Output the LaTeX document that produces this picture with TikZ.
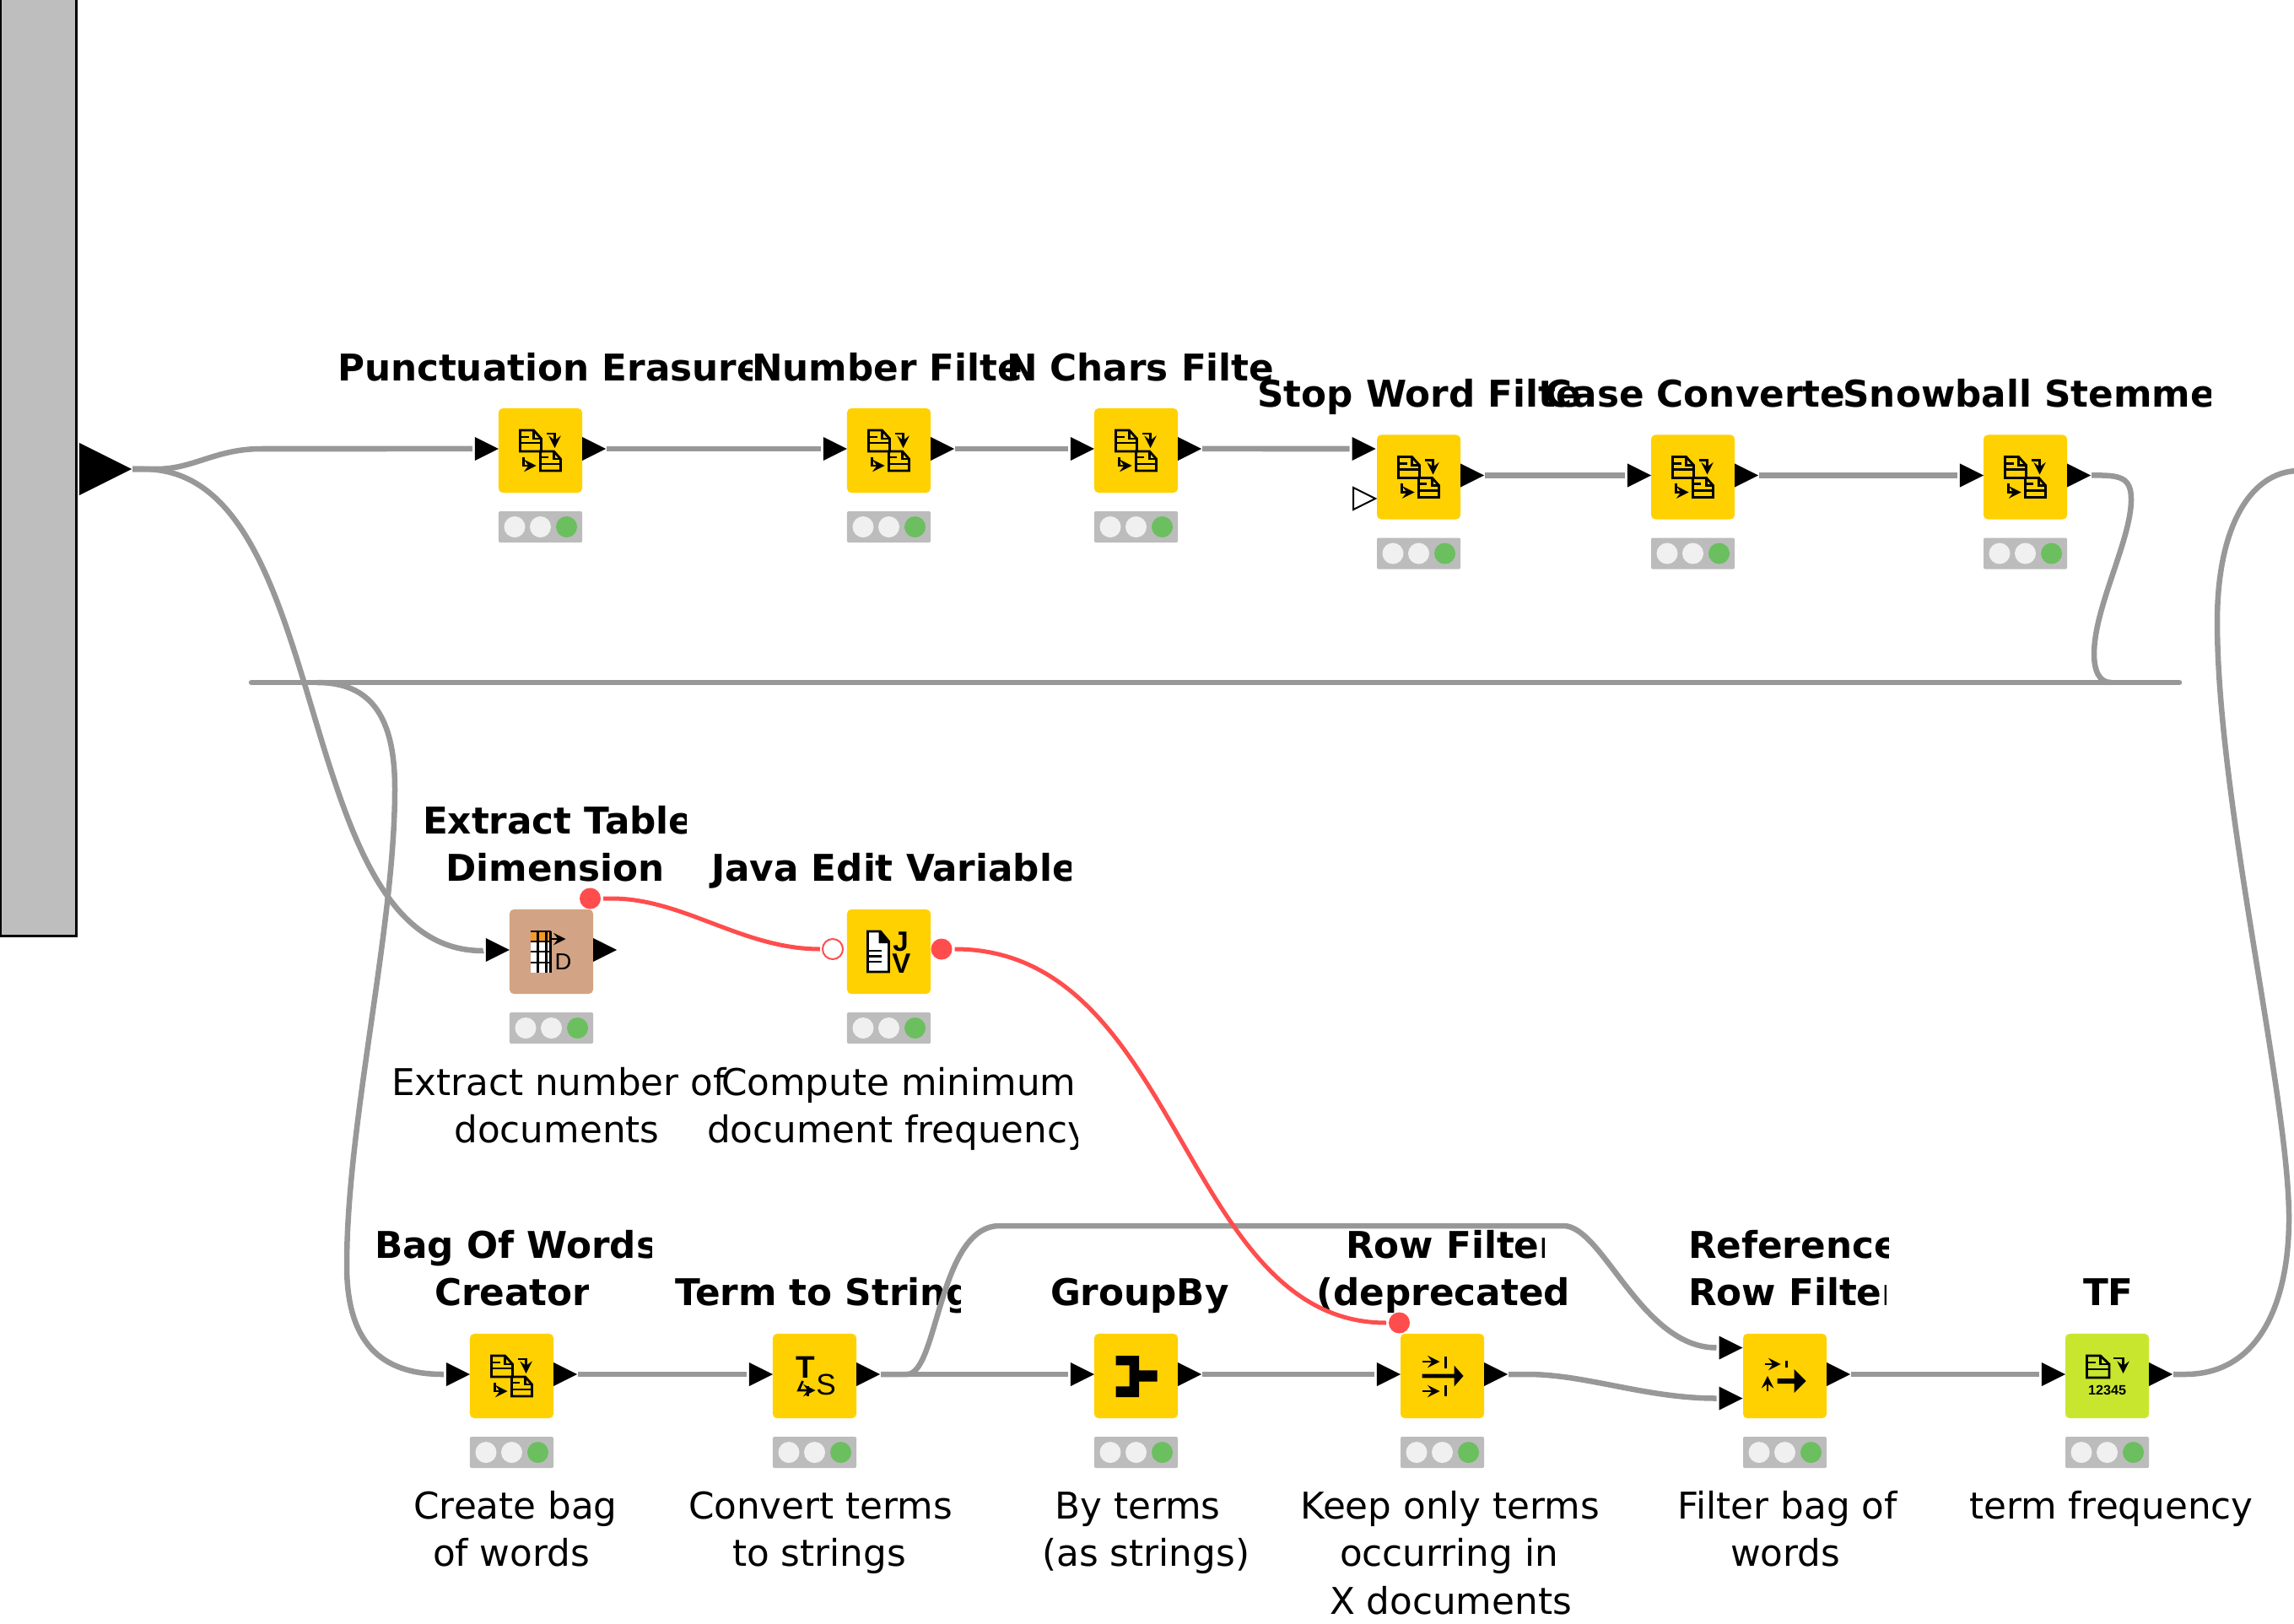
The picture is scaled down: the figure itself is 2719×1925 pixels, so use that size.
\documentclass[tikz,border=0pt]{standalone}
\usepackage{fontspec}
\setmainfont{DejaVu Sans}
\newfontfamily\iconfont{Liberation Sans}
\usepackage{tikz}
\usetikzlibrary{positioning}
\usetikzlibrary{shapes.geometric}
\definecolor{kyellow}{HTML}{FFD100}
\definecolor{kbrown}{HTML}{D2A384}
\definecolor{kgreen}{HTML}{C9E62F}
\definecolor{kstatus}{HTML}{BCBCBC}
\definecolor{klampoff}{HTML}{F0F0F0}
\definecolor{klampon}{HTML}{6BBF5F}
\definecolor{kwire}{HTML}{989898}
\definecolor{kvar}{HTML}{FF4D4D}
\definecolor{kbar}{HTML}{BEBEBE}
\definecolor{korange}{HTML}{F59A2A}
\tikzset{
  kbox/.style={rectangle,rounded corners=0.05cm,minimum width=0.99cm,minimum height=1cm,inner sep=0,outer sep=0},
  kstat/.style={rectangle,rounded corners=0.02cm,fill=kstatus,minimum width=0.99cm,minimum height=0.37cm,inner sep=0,outer sep=0},
  klamp/.style={circle,minimum size=0.25cm,inner sep=0,outer sep=0},
  kport/.style={isosceles triangle,isosceles triangle stretches,shape border rotate=0,fill=black,minimum width=0.28cm,minimum height=0.28cm,inner sep=0,outer sep=0},
  kvarport/.style={circle,fill=kvar,minimum size=0.25cm,inner sep=0,outer sep=0},
  wire/.style={draw=kwire,line width=0.065cm,shorten >=0.03cm,shorten <=0.01cm},
  varwire/.style={draw=kvar,line width=0.05cm,shorten >=0.03cm,shorten <=0.03cm},
  ktitle/.style={font=\bfseries\fontsize{12.42pt}{16pt}\selectfont,inner sep=0,outer sep=0,anchor=base west},
  ktext/.style={font=\fontsize{12.42pt}{16pt}\selectfont,inner sep=0,outer sep=0,anchor=base west},
  kicon/.style={line width=0.028cm,draw=black},
  ktiny/.style={inner sep=0,outer sep=0,anchor=base,text=black},
}
% box with its traffic light
\newcommand{\knode}[4]{
  \node[kbox,fill=#4] (#1) at (#2,#3) {};
  \node[kstat,below=0.22cm of #1] (#1-st) {};
  \node[klamp,fill=klampoff,xshift=-0.305cm] (#1-la) at (#1-st) {};
  \node[klamp,fill=klampoff] (#1-lb) at (#1-st) {};
  \node[klamp,fill=klampon,xshift=0.31cm] (#1-lc) at (#1-st) {};
}
\newcommand{\kin}[1]{\node[kport,anchor=east] (#1-in) at ([yshift=0.02cm]#1.west) {};}
\newcommand{\kout}[1]{\node[kport,anchor=west] (#1-out) at ([yshift=0.02cm]#1.east) {};}
% name, style, x, baseline, right edge of clip, text
\newcommand{\klabel}[6]{
  \begin{scope}
    \clip (#3-20,#4-50) rectangle (#5,#4+18);
    \node[#2] (#1) at (#3-2,#4+1.5) {#6};
  \end{scope}
}
\newcommand{\icondocs}[1]{
  \begin{scope}[shift={(#1.center)},kicon]
    \draw (-24,-24) -- (-8,-24) -- (1,-14) -- (1,1) -- (-24,1) -- cycle;
    \draw (-8,-24) -- (-8,-14) -- (1,-14);
    \draw (-24,-9) -- (1,-9);
    \draw (-24,-16) -- (-14,-16);
    \draw (0,1) -- (16,1) -- (24,10) -- (24,24) -- (0,24) -- cycle;
    \draw (16,1) -- (16,10) -- (24,10);
    \draw (0,8) -- (9,8);
    \draw (0,16) -- (24,16);
    \draw[->,>=stealth] (7,-20) -- (17,-20) -- (17,-3);
    \draw[->,>=stealth] (-20,8) -- (-20,18) -- (-5,18);
  \end{scope}
}

\begin{document}
\begin{tikzpicture}[x=0.01cm,y=-0.01cm]
\useasboundingbox (0,0) rectangle (2719,1925);

\node[draw=black,fill=kbar,line width=0.03cm,minimum width=0.9cm,minimum height=11.2cm,inner sep=0,outer sep=0,anchor=south west] (table) at (0.5,1109.5) {};
\node[kport,minimum width=0.62cm,minimum height=0.62cm,anchor=west] (table-out) at (94,556) {};

\knode{pct}{640.5}{534}{kyellow}
\knode{num}{1053.5}{534}{kyellow}
\knode{nch}{1346.5}{534}{kyellow}
\knode{stp}{1681.5}{565.5}{kyellow}
\knode{csc}{2006.5}{565.5}{kyellow}
\knode{stm}{2400.5}{565.5}{kyellow}
\knode{etd}{653.5}{1128}{kbrown}
\knode{jev}{1053.5}{1128}{kyellow}
\knode{bow}{606.5}{1631}{kyellow}
\knode{tts}{965.5}{1631}{kyellow}
\knode{grp}{1346.5}{1631}{kyellow}
\knode{rof}{1709.5}{1631}{kyellow}
\knode{rrf}{2115.5}{1631}{kyellow}
\knode{tfn}{2497.5}{1631}{kgreen}

\foreach \n in {pct,num,nch,csc,stm,etd,bow,tts,grp,rof,tfn}
{
  \kin{\n}
}
\foreach \n in {pct,num,nch,stp,csc,stm,etd,bow,tts,grp,rof,rrf,tfn}
{
  \kout{\n}
}
\node[kport,anchor=east] (stp-in) at (1630.5,532) {};
\node[kport,fill=white,draw=black,line width=0.02cm,minimum width=0.26cm,minimum height=0.26cm,anchor=east] (stp-inb) at (1630,591) {};
\node[kport,anchor=east] (rrf-ina) at (2065.5,1597.5) {};
\node[kport,anchor=east] (rrf-inb) at (2065.5,1657.5) {};

\node[kvarport] (etd-var) at (699.5,1065) {};
\node[kvarport,fill=white,draw=kvar,line width=0.02cm,minimum size=0.24cm] (jev-var) at (987,1125) {};
\node[kvarport] (jev-vout) at (1116,1125) {};
\node[kvarport] (rof-var) at (1658.5,1568) {};

% icons
\icondocs{pct}
\icondocs{num}
\icondocs{nch}
\icondocs{stp}
\icondocs{csc}
\icondocs{stm}
\icondocs{bow}

\begin{scope}[shift={(etd.center)},kicon]
  \fill[white] (-25,-24) rectangle (-1,25);
  \fill[korange] (-25,-24) rectangle (-1,-12);
  \foreach \g in {-12,0,13}
  {
    \draw (-25,\g) -- (-1,\g);
  }
  \foreach \g in {-16,-6,-1}
  {
    \draw (\g,-24) -- (\g,25);
  }
  \draw (-25,-24) -- (-1,-24);
  \draw[->,>=stealth] (-1,-15) -- (17,-15);
  \node[ktiny,font=\iconfont\fontsize{7.8pt}{8pt}\selectfont] (etd-d) at (14,21) {D};
\end{scope}

\begin{scope}[shift={(jev.center)},kicon]
  \fill[white,draw=black] (-25,-24) -- (-10,-24) -- (0,-12) -- (0,24) -- (-25,24) -- cycle;
  \fill[black] (-12,-24) -- (-10,-24) -- (0,-12) -- (0,-10) -- (-12,-10) -- cycle;
  \foreach \g in {-1,5.5,12}
  {
    \draw (-25,\g) -- (-9,\g);
  }
  \node[ktiny,font=\iconfont\bfseries\fontsize{9.4pt}{9pt}\selectfont] (jev-j) at (14,-1) {J};
  \node[ktiny,font=\iconfont\bfseries\fontsize{9.4pt}{9pt}\selectfont] (jev-v) at (15,25) {V};
\end{scope}

\begin{scope}[shift={(tts.center)},kicon]
  \node[ktiny,font=\iconfont\bfseries\fontsize{10.5pt}{9pt}\selectfont] (tts-t) at (-10.5,2) {T};
  \draw[->,>=stealth] (-14,6) -- (-19,17) -- (1,17);
  \draw (-8,12) -- (-8,24);
  \node[ktiny,font=\iconfont\fontsize{10pt}{9pt}\selectfont] (tts-s) at (13.5,22) {S};
\end{scope}

\begin{scope}[shift={(grp.center)}]
  \fill[black] (-24,-24) -- (3.5,-24) -- (3.5,-6.7) -- (25,-6.7) -- (25,6.7) -- (3.5,6.7) -- (3.5,25) -- (-24,25) -- (-24,12.3) -- (-8,12.3) -- (-8,-12.7) -- (-24,-12.7) -- cycle;
\end{scope}

\begin{scope}[shift={(rof.center)},kicon]
  \draw[->,>=stealth] (-24,-17) -- (-3,-17);
  \draw (4,-23) -- (4,-9);
  \draw[->,>=stealth] (-24,18) -- (-3,18);
  \draw (4,11) -- (4,24);
  \fill[black] (-24,-2.3) -- (14,-2.3) -- (14,-12.5) -- (25,0) -- (14,12.5) -- (14,2.3) -- (-24,2.3) -- cycle;
\end{scope}

\begin{scope}[shift={(rrf.center)},kicon]
  \draw[->,>=stealth] (-24,-14) -- (-5,-14);
  \draw (2,-18) -- (2,-10);
  \draw[->,>=stealth] (-20.5,18) -- (-20.5,0);
  \fill[black] (-9,3) -- (11,3) -- (11,-8) -- (25,6) -- (11,20) -- (11,9) -- (-9,9) -- cycle;
\end{scope}

\begin{scope}[shift={(tfn.center)},kicon]
  \draw (-24,-24) -- (-8,-24) -- (2.5,-14) -- (2.5,2) -- (-24,2) -- cycle;
  \draw (-8,-24) -- (-8,-14) -- (2.5,-14);
  \draw (-24,-8) -- (2.5,-8);
  \draw (-24,-16) -- (-14,-16);
  \draw[->,>=stealth] (7,-21) -- (19,-21) -- (19,-3);
  \node[ktiny,font=\iconfont\bfseries\fontsize{4.6pt}{5pt}\selectfont] (tfn-n) at (0,22) {12345};
\end{scope}

% titles
\klabel{pct-t}{ktitle}{402}{450}{891}{Punctuation Erasure}
\klabel{num-t}{ktitle}{893}{450}{1214}{Number Filter}
\klabel{nch-t}{ktitle}{1195}{450}{1508}{N Chars Filter}
\klabel{stp-t}{ktitle}{1492.5}{481}{1875}{Stop Word Filter}
\klabel{csc-t}{ktitle}{1833.5}{481}{2188}{Case Converter}
\klabel{stm-t}{ktitle}{2186.5}{481}{2620.5}{Snowball Stemmer}
\klabel{etd-ta}{ktitle}{503}{987}{813}{Extract Table}
\klabel{etd-tb}{ktitle}{530.5}{1043}{813}{Dimension}
\klabel{jev-t}{ktitle}{845}{1043}{1269.5}{Java Edit Variable}
\klabel{bow-ta}{ktitle}{446}{1490}{772.5}{Bag Of Words}
\klabel{bow-tb}{ktitle}{517}{1546}{697}{Creator}
\klabel{tts-t}{ktitle}{802}{1546}{1138}{Term to String}
\klabel{grp-t}{ktitle}{1247}{1546}{1480}{GroupBy}
\klabel{rof-ta}{ktitle}{1597}{1490}{1830}{Row Filter}
\klabel{rof-tb}{ktitle}{1562.5}{1546}{1859}{(deprecated)}
\klabel{rrf-ta}{ktitle}{2003}{1490}{2238}{Reference}
\klabel{rrf-tb}{ktitle}{2003}{1546}{2235.5}{Row Filter}
\klabel{tfn-t}{ktitle}{2471}{1546}{2560}{TF}

% descriptions
\klabel{etd-da}{ktext}{466}{1297}{862}{Extract number of}
\klabel{etd-db}{ktext}{540.5}{1353}{862}{documents}
\klabel{jev-da}{ktext}{857}{1297}{1272}{Compute minimum}
\klabel{jev-db}{ktext}{840}{1353}{1277}{document frequency}
\klabel{bow-da}{ktext}{492.5}{1799}{760}{Create bag}
\klabel{bow-db}{ktext}{515}{1855}{760}{of words}
\klabel{tts-da}{ktext}{818}{1799}{1150}{Convert terms}
\klabel{tts-db}{ktext}{870}{1855}{1150}{to strings}
\klabel{grp-da}{ktext}{1252.5}{1799}{1500}{By terms}
\klabel{grp-db}{ktext}{1237.5}{1855}{1500}{(as strings)}
\klabel{rof-da}{ktext}{1543.5}{1799}{1920}{Keep only terms}
\klabel{rof-db}{ktext}{1590}{1855}{1920}{occurring in}
\klabel{rof-dc}{ktext}{1578}{1912}{1920}{X documents}
\klabel{rrf-da}{ktext}{1990.5}{1799}{2270}{Filter bag of}
\klabel{rrf-db}{ktext}{2053}{1855}{2270}{words}
\klabel{tfn-d}{ktext}{2336}{1799}{2719}{term frequency}

% wires
\coordinate (hbar-l) at (298,809);
\coordinate (hbar-r) at (2583,809);
\coordinate (hbar-a) at (2505,809);
\coordinate (hbar-b) at (375,809);
\coordinate (next) at (2725,558);
\draw[wire,shorten <=0pt,shorten >=0pt,line cap=round] (hbar-l) -- (hbar-r);
\draw[wire] (table-out.east) -- (185,556) .. controls (230,556) and (255,532) .. (310,532) -- (pct-in.west);
\draw[wire] (table-out.east) -- (170,556) .. controls (400,556) and (340,1127) .. (572,1127) -- (etd-in.west);
\draw[wire] (hbar-b) .. controls (440,809) and (468,850) .. (468,935) .. controls (468,1100) and (411,1330) .. (411,1500) .. controls (411,1590) and (450,1629) .. (525,1629) -- (bow-in.west);
\draw[wire] (pct-out.east) -- (num-in.west);
\draw[wire] (num-out.east) -- (nch-in.west);
\draw[wire] (nch-out.east) -- (stp-in.west);
\draw[wire] (stp-out.east) -- (csc-in.west);
\draw[wire] (csc-out.east) -- (stm-in.west);
\draw[wire] (stm-out.east) .. controls (2512,563) and (2526,565) .. (2526,592) .. controls (2526,640) and (2482,720) .. (2482,775) .. controls (2482,795) and (2488,809) .. (hbar-a);
\draw[wire] (bow-out.east) -- (tts-in.west);
\draw[wire] (tts-out.east) -- (grp-in.west);
\draw[wire] (tts-out.east) -- (1075,1629) .. controls (1112,1629) and (1112,1453) .. (1185,1453) -- (1853,1453) .. controls (1900,1453) and (1945,1597.5) .. (rrf-ina.west);
\draw[wire] (grp-out.east) -- (rof-in.west);
\draw[wire] (rof-out.east) -- (1810,1629) .. controls (1880,1629) and (1950,1657.5) .. (rrf-inb.west);
\draw[wire] (rrf-out.east) -- (tfn-in.west);
\draw[wire] (tfn-out.east) -- (2590,1629) .. controls (2680,1629) and (2713,1540) .. (2713,1444) .. controls (2713,1300) and (2628,950) .. (2628,737) .. controls (2628,620) and (2670,560) .. (next);

\draw[varwire] (etd-var) -- (725,1065) .. controls (810,1065) and (880,1125) .. (jev-var);
\draw[varwire] (jev-vout) .. controls (1400,1125) and (1400,1568) .. (rof-var);
\end{tikzpicture}
\end{document}
